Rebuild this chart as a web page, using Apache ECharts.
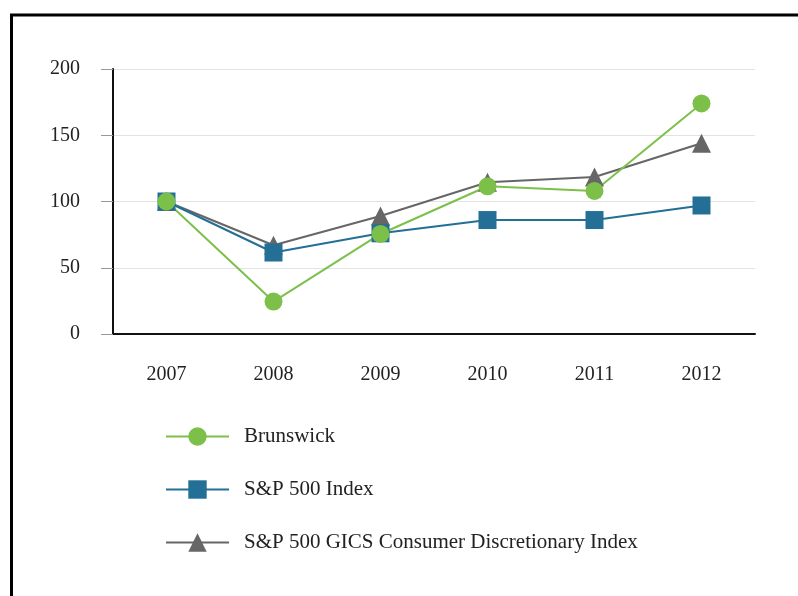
<!DOCTYPE html>
<html><head><meta charset="utf-8">
<script src="https://cdn.jsdelivr.net/npm/echarts@6/dist/echarts.min.js"></script>
<style>html,body{margin:0;padding:0;background:#fff}#c{width:798px;height:596px}</style>
</head><body><div id="c"></div>
<script>
const years = ['2007','2008','2009','2010','2011','2012'];
const brunswick = [100, 24.5, 75.5, 111.5, 108, 174];
const sp500 = [100, 61.5, 76, 86, 86, 97];
const gics = [100, 67, 89, 114.5, 118.5, 144];
const yTicks = [0, 50, 100, 150, 200];

const FONT = '"Liberation Serif", "Times New Roman", serif';
const chart = echarts.init(document.getElementById('c'), null, {renderer:'canvas'});
function ser(name, data, color, symbol, size){
  return {name, type:'line', data, color, symbol, symbolSize:size, showSymbol:true,
    lineStyle:{color, width:2}, itemStyle:{color}, z: 2};
}
chart.setOption({
  animation:false,
  backgroundColor:'#fff',
  graphic:[{type:'rect', shape:{x:11.5, y:15, width:800, height:620}, style:{fill:'none', stroke:'#000', lineWidth:3}}],
  grid:{left:113, right:43, top:69, bottom:262},
  legend:{orient:'vertical', left:165, top:426, padding:0, itemWidth:63, itemHeight:23, itemGap:32,
    textStyle:{fontFamily:FONT, fontSize:21, color:'#222', padding:[0,0,0,10]},
    data:['Brunswick','S&P 500 Index','S&P 500 GICS Consumer Discretionary Index']},
  xAxis:{type:'category', data:years, boundaryGap:true,
    axisLine:{lineStyle:{color:'#111', width:2}},
    axisTick:{alignWithLabel:true, length:11, lineStyle:{color:'#aaa'}},
    axisLabel:{fontFamily:FONT, fontSize:20, color:'#222', margin:31}},
  yAxis:{type:'value', min:yTicks[0], max:yTicks[yTicks.length-1], interval:50,
    axisLine:{show:true, lineStyle:{color:'#111', width:2}},
    axisTick:{show:true, length:12, lineStyle:{color:'#999'}},
    splitLine:{lineStyle:{color:'#e3e3e3', width:1}},
    axisLabel:{fontFamily:FONT, fontSize:20, color:'#222', margin:33, padding:[3,0,0,0]}},
  series:[
    ser('S&P 500 GICS Consumer Discretionary Index', gics, '#666666', 'triangle', 19),
    ser('S&P 500 Index', sp500, '#236f96', 'rect', 18),
    ser('Brunswick', brunswick, '#7cc04a', 'circle', 18)
  ]
});
</script></body></html>
